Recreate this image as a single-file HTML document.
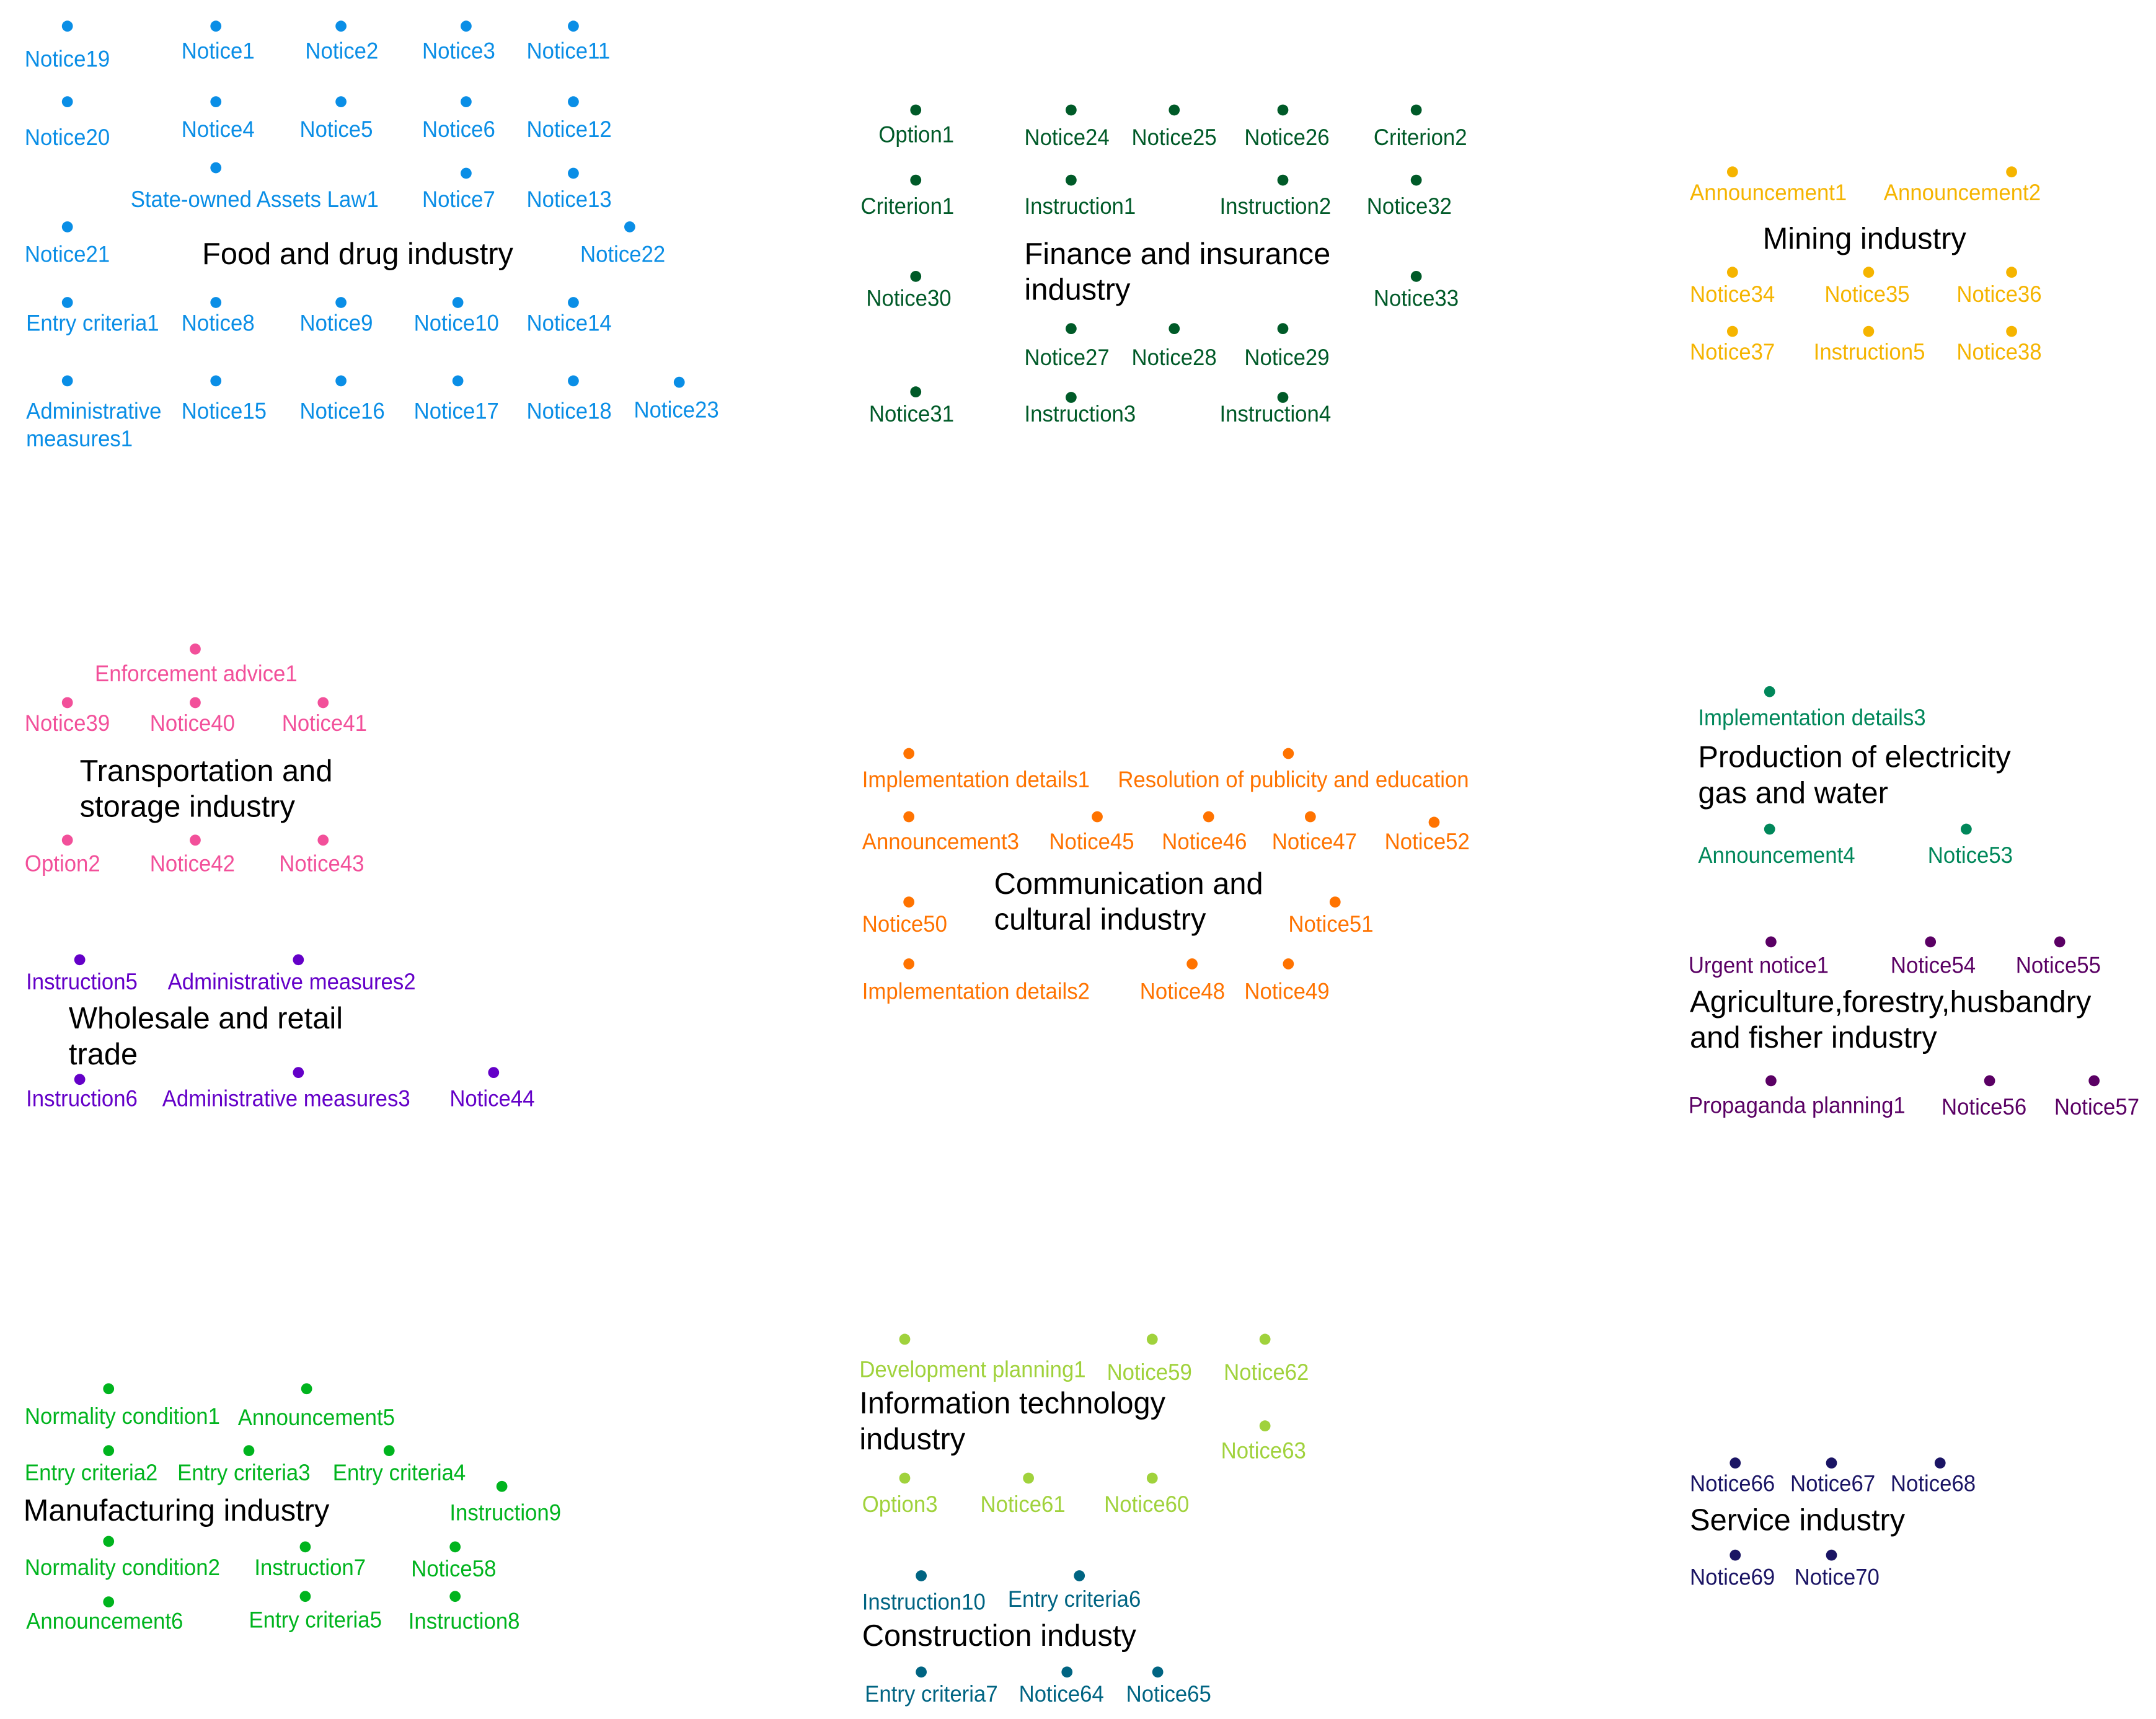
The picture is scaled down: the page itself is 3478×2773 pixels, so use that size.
<!DOCTYPE html>
<html><head><meta charset="utf-8"><style>
html,body{margin:0;padding:0;background:#fff;}
body{width:3478px;height:2772px;overflow:hidden;position:relative;}
#c{position:absolute;left:0;top:0;width:1568px;height:1250px;transform:scale(2.2181);transform-origin:0 0;font-family:"Liberation Sans",Arial,sans-serif;}
.d{position:absolute;width:8px;height:8px;border-radius:50%;margin:-4px 0 0 -4px;}
.l{position:absolute;font-size:16.5px;line-height:1;white-space:nowrap;transform:translateY(-45%) scaleX(0.95);transform-origin:0 50%;}
.t{position:absolute;font-size:22px;line-height:26px;white-space:nowrap;color:#000;transform:translateY(-12px);transform-origin:0 0;}
</style></head><body><div id="c">
<!-- Food -->
<div style="color:#0a8ee6">
<style>#c div[style*="0a8ee6"] .d{background:#0a8ee6}</style>
<div class="d" style="left:49px;top:19px"></div><div class="l" style="left:18px;top:43px">Notice19</div>
<div class="d" style="left:157px;top:19px"></div><div class="l" style="left:132px;top:37px">Notice1</div>
<div class="d" style="left:248px;top:19px"></div><div class="l" style="left:222px;top:37px">Notice2</div>
<div class="d" style="left:339px;top:19px"></div><div class="l" style="left:307px;top:37px">Notice3</div>
<div class="d" style="left:417px;top:19px"></div><div class="l" style="left:383px;top:37px">Notice11</div>
<div class="d" style="left:49px;top:74px"></div><div class="l" style="left:18px;top:100px">Notice20</div>
<div class="d" style="left:157px;top:74px"></div><div class="l" style="left:132px;top:94px">Notice4</div>
<div class="d" style="left:248px;top:74px"></div><div class="l" style="left:218px;top:94px">Notice5</div>
<div class="d" style="left:339px;top:74px"></div><div class="l" style="left:307px;top:94px">Notice6</div>
<div class="d" style="left:417px;top:74px"></div><div class="l" style="left:383px;top:94px">Notice12</div>
<div class="d" style="left:157px;top:122px"></div><div class="l" style="left:95px;top:145px">State-owned Assets Law1</div>
<div class="d" style="left:339px;top:126px"></div><div class="l" style="left:307px;top:145px">Notice7</div>
<div class="d" style="left:417px;top:126px"></div><div class="l" style="left:383px;top:145px">Notice13</div>
<div class="d" style="left:49px;top:165px"></div><div class="l" style="left:18px;top:185px">Notice21</div>
<div class="d" style="left:458px;top:165px"></div><div class="l" style="left:422px;top:185px">Notice22</div>
<div class="d" style="left:49px;top:220px"></div><div class="l" style="left:19px;top:235px">Entry criteria1</div>
<div class="d" style="left:157px;top:220px"></div><div class="l" style="left:132px;top:235px">Notice8</div>
<div class="d" style="left:248px;top:220px"></div><div class="l" style="left:218px;top:235px">Notice9</div>
<div class="d" style="left:333px;top:220px"></div><div class="l" style="left:301px;top:235px">Notice10</div>
<div class="d" style="left:417px;top:220px"></div><div class="l" style="left:383px;top:235px">Notice14</div>
<div class="d" style="left:49px;top:277px"></div><div class="l" style="left:19px;top:299px">Administrative</div><div class="l" style="left:19px;top:319px">measures1</div>
<div class="d" style="left:157px;top:277px"></div><div class="l" style="left:132px;top:299px">Notice15</div>
<div class="d" style="left:248px;top:277px"></div><div class="l" style="left:218px;top:299px">Notice16</div>
<div class="d" style="left:333px;top:277px"></div><div class="l" style="left:301px;top:299px">Notice17</div>
<div class="d" style="left:417px;top:277px"></div><div class="l" style="left:383px;top:299px">Notice18</div>
<div class="d" style="left:494px;top:278px"></div><div class="l" style="left:461px;top:298px">Notice23</div>
</div>
<div class="t" style="left:147px;top:184px">Food and drug industry</div>

<!-- Finance -->
<div style="color:#005a28">
<style>#c div[style*="005a28"] .d{background:#005a28}</style>
<div class="d" style="left:666px;top:80px"></div><div class="l" style="left:639px;top:98px">Option1</div>
<div class="d" style="left:779px;top:80px"></div><div class="l" style="left:745px;top:100px">Notice24</div>
<div class="d" style="left:854px;top:80px"></div><div class="l" style="left:823px;top:100px">Notice25</div>
<div class="d" style="left:933px;top:80px"></div><div class="l" style="left:905px;top:100px">Notice26</div>
<div class="d" style="left:1030px;top:80px"></div><div class="l" style="left:999px;top:100px">Criterion2</div>
<div class="d" style="left:666px;top:131px"></div><div class="l" style="left:626px;top:150px">Criterion1</div>
<div class="d" style="left:779px;top:131px"></div><div class="l" style="left:745px;top:150px">Instruction1</div>
<div class="d" style="left:933px;top:131px"></div><div class="l" style="left:887px;top:150px">Instruction2</div>
<div class="d" style="left:1030px;top:131px"></div><div class="l" style="left:994px;top:150px">Notice32</div>
<div class="d" style="left:666px;top:201px"></div><div class="l" style="left:630px;top:217px">Notice30</div>
<div class="d" style="left:1030px;top:201px"></div><div class="l" style="left:999px;top:217px">Notice33</div>
<div class="d" style="left:779px;top:239px"></div><div class="l" style="left:745px;top:260px">Notice27</div>
<div class="d" style="left:854px;top:239px"></div><div class="l" style="left:823px;top:260px">Notice28</div>
<div class="d" style="left:933px;top:239px"></div><div class="l" style="left:905px;top:260px">Notice29</div>
<div class="d" style="left:666px;top:285px"></div><div class="l" style="left:632px;top:301px">Notice31</div>
<div class="d" style="left:779px;top:289px"></div><div class="l" style="left:745px;top:301px">Instruction3</div>
<div class="d" style="left:933px;top:289px"></div><div class="l" style="left:887px;top:301px">Instruction4</div>
</div>
<div class="t" style="left:745px;top:184px">Finance and insurance<br>industry</div>

<!-- Mining -->
<div style="color:#f5b400">
<style>#c div[style*="f5b400"] .d{background:#f5b400}</style>
<div class="d" style="left:1260px;top:125px"></div><div class="l" style="left:1229px;top:140px">Announcement1</div>
<div class="d" style="left:1463px;top:125px"></div><div class="l" style="left:1370px;top:140px">Announcement2</div>
<div class="d" style="left:1260px;top:198px"></div><div class="l" style="left:1229px;top:214px">Notice34</div>
<div class="d" style="left:1359px;top:198px"></div><div class="l" style="left:1327px;top:214px">Notice35</div>
<div class="d" style="left:1463px;top:198px"></div><div class="l" style="left:1423px;top:214px">Notice36</div>
<div class="d" style="left:1260px;top:241px"></div><div class="l" style="left:1229px;top:256px">Notice37</div>
<div class="d" style="left:1359px;top:241px"></div><div class="l" style="left:1319px;top:256px">Instruction5</div>
<div class="d" style="left:1463px;top:241px"></div><div class="l" style="left:1423px;top:256px">Notice38</div>
</div>
<div class="t" style="left:1282px;top:173px">Mining industry</div>

<!-- Transport -->
<div style="color:#f2509a">
<style>#c div[style*="f2509a"] .d{background:#f2509a}</style>
<div class="d" style="left:142px;top:472px"></div><div class="l" style="left:69px;top:490px">Enforcement advice1</div>
<div class="d" style="left:49px;top:511px"></div><div class="l" style="left:18px;top:526px">Notice39</div>
<div class="d" style="left:142px;top:511px"></div><div class="l" style="left:109px;top:526px">Notice40</div>
<div class="d" style="left:235px;top:511px"></div><div class="l" style="left:205px;top:526px">Notice41</div>
<div class="d" style="left:49px;top:611px"></div><div class="l" style="left:18px;top:628px">Option2</div>
<div class="d" style="left:142px;top:611px"></div><div class="l" style="left:109px;top:628px">Notice42</div>
<div class="d" style="left:235px;top:611px"></div><div class="l" style="left:203px;top:628px">Notice43</div>
</div>
<div class="t" style="left:58px;top:560px">Transportation and<br>storage industry</div>

<!-- Wholesale -->
<div style="color:#6400c8">
<style>#c div[style*="6400c8"] .d{background:#6400c8}</style>
<div class="d" style="left:58px;top:698px"></div><div class="l" style="left:19px;top:714px">Instruction5</div>
<div class="d" style="left:217px;top:698px"></div><div class="l" style="left:122px;top:714px">Administrative measures2</div>
<div class="d" style="left:58px;top:785px"></div><div class="l" style="left:19px;top:799px">Instruction6</div>
<div class="d" style="left:217px;top:780px"></div><div class="l" style="left:118px;top:799px">Administrative measures3</div>
<div class="d" style="left:359px;top:780px"></div><div class="l" style="left:327px;top:799px">Notice44</div>
</div>
<div class="t" style="left:50px;top:740px">Wholesale and retail<br>trade</div>

<!-- Communication -->
<div style="color:#ff7300">
<style>#c div[style*="ff7300"] .d{background:#ff7300}</style>
<div class="d" style="left:661px;top:548px"></div><div class="l" style="left:627px;top:567px">Implementation details1</div>
<div class="d" style="left:937px;top:548px"></div><div class="l" style="left:813px;top:567px">Resolution of publicity and education</div>
<div class="d" style="left:661px;top:594px"></div><div class="l" style="left:627px;top:612px">Announcement3</div>
<div class="d" style="left:798px;top:594px"></div><div class="l" style="left:763px;top:612px">Notice45</div>
<div class="d" style="left:879px;top:594px"></div><div class="l" style="left:845px;top:612px">Notice46</div>
<div class="d" style="left:953px;top:594px"></div><div class="l" style="left:925px;top:612px">Notice47</div>
<div class="d" style="left:1043px;top:598px"></div><div class="l" style="left:1007px;top:612px">Notice52</div>
<div class="d" style="left:661px;top:656px"></div><div class="l" style="left:627px;top:672px">Notice50</div>
<div class="d" style="left:971px;top:656px"></div><div class="l" style="left:937px;top:672px">Notice51</div>
<div class="d" style="left:661px;top:701px"></div><div class="l" style="left:627px;top:721px">Implementation details2</div>
<div class="d" style="left:867px;top:701px"></div><div class="l" style="left:829px;top:721px">Notice48</div>
<div class="d" style="left:937px;top:701px"></div><div class="l" style="left:905px;top:721px">Notice49</div>
</div>
<div class="t" style="left:723px;top:642px">Communication and<br>cultural industry</div>

<!-- Electricity -->
<div style="color:#00875a">
<style>#c div[style*="00875a"] .d{background:#00875a}</style>
<div class="d" style="left:1287px;top:503px"></div><div class="l" style="left:1235px;top:522px">Implementation details3</div>
<div class="d" style="left:1287px;top:603px"></div><div class="l" style="left:1235px;top:622px">Announcement4</div>
<div class="d" style="left:1430px;top:603px"></div><div class="l" style="left:1402px;top:622px">Notice53</div>
</div>
<div class="t" style="left:1235px;top:550px">Production of electricity<br>gas and water</div>

<!-- Agriculture -->
<div style="color:#5a0064">
<style>#c div[style*="5a0064"] .d{background:#5a0064}</style>
<div class="d" style="left:1288px;top:685px"></div><div class="l" style="left:1228px;top:702px">Urgent notice1</div>
<div class="d" style="left:1404px;top:685px"></div><div class="l" style="left:1375px;top:702px">Notice54</div>
<div class="d" style="left:1498px;top:685px"></div><div class="l" style="left:1466px;top:702px">Notice55</div>
<div class="d" style="left:1288px;top:786px"></div><div class="l" style="left:1228px;top:804px">Propaganda planning1</div>
<div class="d" style="left:1447px;top:786px"></div><div class="l" style="left:1412px;top:805px">Notice56</div>
<div class="d" style="left:1523px;top:786px"></div><div class="l" style="left:1494px;top:805px">Notice57</div>
</div>
<div class="t" style="left:1229px;top:728px">Agriculture,forestry,husbandry<br>and fisher industry</div>

<!-- Manufacturing -->
<div style="color:#00b41e">
<style>#c div[style*="00b41e"] .d{background:#00b41e}</style>
<div class="d" style="left:79px;top:1010px"></div><div class="l" style="left:18px;top:1030px">Normality condition1</div>
<div class="d" style="left:223px;top:1010px"></div><div class="l" style="left:173px;top:1031px">Announcement5</div>
<div class="d" style="left:79px;top:1055px"></div><div class="l" style="left:18px;top:1071px">Entry criteria2</div>
<div class="d" style="left:181px;top:1055px"></div><div class="l" style="left:129px;top:1071px">Entry criteria3</div>
<div class="d" style="left:283px;top:1055px"></div><div class="l" style="left:242px;top:1071px">Entry criteria4</div>
<div class="d" style="left:365px;top:1081px"></div><div class="l" style="left:327px;top:1100px">Instruction9</div>
<div class="d" style="left:79px;top:1121px"></div><div class="l" style="left:18px;top:1140px">Normality condition2</div>
<div class="d" style="left:222px;top:1125px"></div><div class="l" style="left:185px;top:1140px">Instruction7</div>
<div class="d" style="left:331px;top:1125px"></div><div class="l" style="left:299px;top:1141px">Notice58</div>
<div class="d" style="left:79px;top:1165px"></div><div class="l" style="left:19px;top:1179px">Announcement6</div>
<div class="d" style="left:222px;top:1161px"></div><div class="l" style="left:181px;top:1178px">Entry criteria5</div>
<div class="d" style="left:331px;top:1161px"></div><div class="l" style="left:297px;top:1179px">Instruction8</div>
</div>
<div class="t" style="left:17px;top:1098px">Manufacturing industry</div>

<!-- IT -->
<div style="color:#a0d23c">
<style>#c div[style*="a0d23c"] .d{background:#a0d23c}</style>
<div class="d" style="left:658px;top:974px"></div><div class="l" style="left:625px;top:996px">Development planning1</div>
<div class="d" style="left:838px;top:974px"></div><div class="l" style="left:805px;top:998px">Notice59</div>
<div class="d" style="left:920px;top:974px"></div><div class="l" style="left:890px;top:998px">Notice62</div>
<div class="d" style="left:920px;top:1037px"></div><div class="l" style="left:888px;top:1055px">Notice63</div>
<div class="d" style="left:658px;top:1075px"></div><div class="l" style="left:627px;top:1094px">Option3</div>
<div class="d" style="left:748px;top:1075px"></div><div class="l" style="left:713px;top:1094px">Notice61</div>
<div class="d" style="left:838px;top:1075px"></div><div class="l" style="left:803px;top:1094px">Notice60</div>
</div>
<div class="t" style="left:625px;top:1020px">Information technology<br>industry</div>

<!-- Construction -->
<div style="color:#006482">
<style>#c div[style*="006482"] .d{background:#006482}</style>
<div class="d" style="left:670px;top:1146px"></div><div class="l" style="left:627px;top:1165px">Instruction10</div>
<div class="d" style="left:785px;top:1146px"></div><div class="l" style="left:733px;top:1163px">Entry criteria6</div>
<div class="d" style="left:670px;top:1216px"></div><div class="l" style="left:629px;top:1232px">Entry criteria7</div>
<div class="d" style="left:776px;top:1216px"></div><div class="l" style="left:741px;top:1232px">Notice64</div>
<div class="d" style="left:842px;top:1216px"></div><div class="l" style="left:819px;top:1232px">Notice65</div>
</div>
<div class="t" style="left:627px;top:1189px">Construction industy</div>

<!-- Service -->
<div style="color:#1a1464">
<style>#c div[style*="1a1464"] .d{background:#1a1464}</style>
<div class="d" style="left:1262px;top:1064px"></div><div class="l" style="left:1229px;top:1079px">Notice66</div>
<div class="d" style="left:1332px;top:1064px"></div><div class="l" style="left:1302px;top:1079px">Notice67</div>
<div class="d" style="left:1411px;top:1064px"></div><div class="l" style="left:1375px;top:1079px">Notice68</div>
<div class="d" style="left:1262px;top:1131px"></div><div class="l" style="left:1229px;top:1147px">Notice69</div>
<div class="d" style="left:1332px;top:1131px"></div><div class="l" style="left:1305px;top:1147px">Notice70</div>
</div>
<div class="t" style="left:1229px;top:1105px">Service industry</div>
</div></body></html>
